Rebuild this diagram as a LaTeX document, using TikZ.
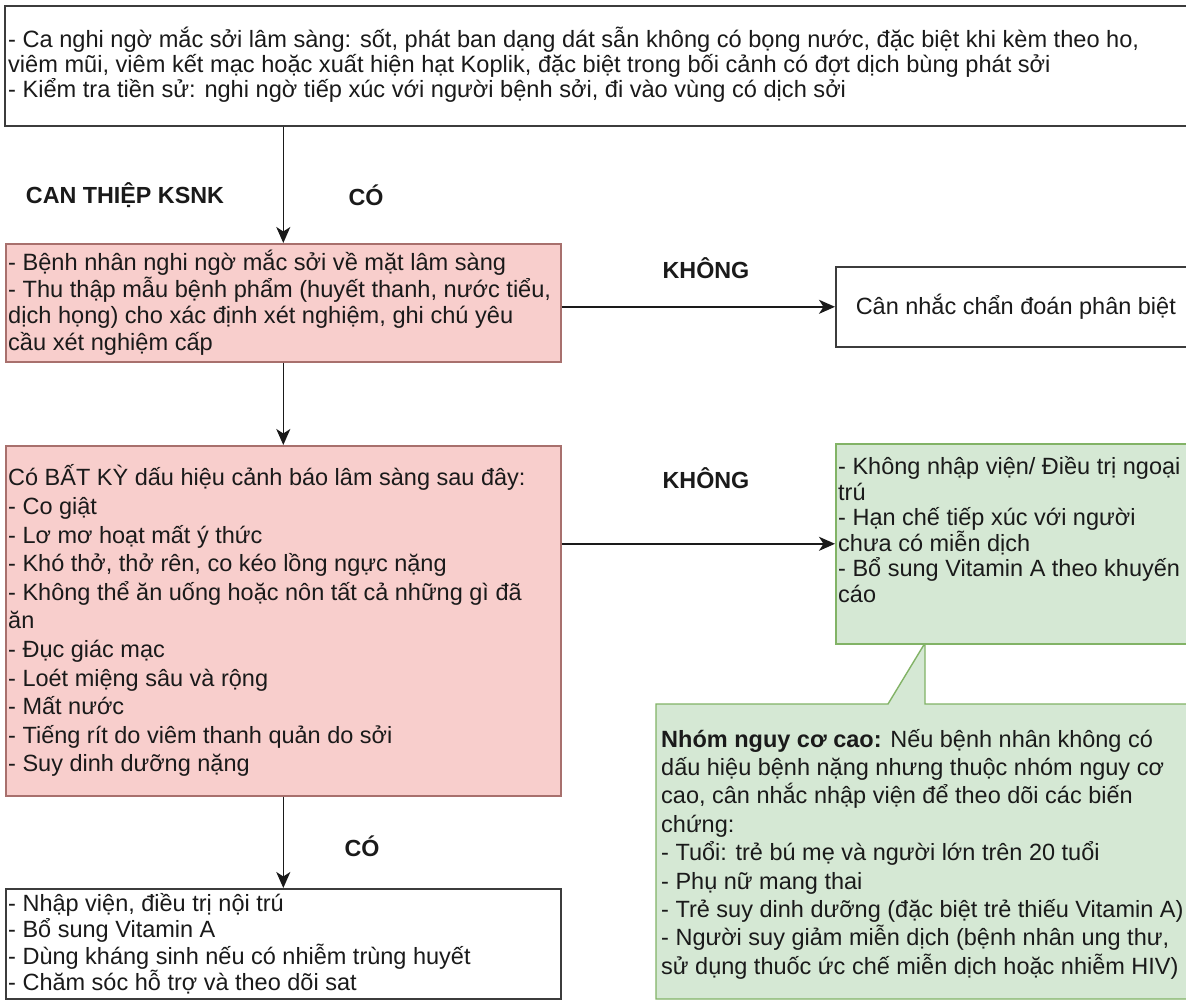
\documentclass[tikz,border=0pt]{standalone}
\usepackage{fontspec}
\setmainfont{Liberation Sans}
\usetikzlibrary{arrows.meta}
\definecolor{redfill}{HTML}{F8CECC}
\definecolor{redline}{HTML}{A8706D}
\definecolor{greenfill}{HTML}{D5E8D4}
\definecolor{greenline}{HTML}{82B366}
\definecolor{ink}{HTML}{1A1A1A}
\begin{document}
\begin{tikzpicture}[x=1pt,y=-1pt,
  box/.style={draw=ink!85, line width=1.6pt, rectangle, inner sep=0pt, anchor=north west},
  redbox/.style={box, fill=redfill, draw=redline},
  greenbox/.style={box, fill=greenfill, draw=greenline},
  txt/.style={anchor=west, align=left, inner sep=0pt, text=ink, font=\fontsize{23.5}{27}\selectfont},
  lbl/.style={inner sep=0pt, text=ink, font=\fontsize{23.3}{27.5}\selectfont\bfseries},
  arr/.style={draw=ink, line width=1.6pt, -{Stealth[length=16pt,width=14pt,inset=4.5pt]}}
]
\useasboundingbox (0,0) rectangle (1186,1002);
\fill[white] (0,0) rectangle (1186,1002);
\clip (0,0) rectangle (1186,1002);

% top box
\node[box, minimum width=1190pt, minimum height=120pt] (top) at (4,5) {};
\node[txt, font=\fontsize{23.6}{25}\selectfont] (topt) at ([xshift=4pt,yshift=1pt]top.west) {- Ca nghi ngờ mắc sởi lâm sàng: sốt, phát ban dạng dát sẫn không có bọng nước, đặc biệt khi kèm theo ho,\\viêm mũi, viêm kết mạc hoặc xuất hiện hạt Koplik, đặc biệt trong bối cảnh có đợt dịch bùng phát sởi\\- Kiểm tra tiền sử: nghi ngờ tiếp xúc với người bệnh sởi, đi vào vùng có dịch sởi};

% red box 1
\node[redbox, minimum width=555pt, minimum height=118pt] (red1) at (5,243) {};
\node[txt, font=\fontsize{23.6}{26.5}\selectfont] (red1t) at ([xshift=3pt]red1.west) {- Bệnh nhân nghi ngờ mắc sởi về mặt lâm sàng\\- Thu thập mẫu bệnh phẩm (huyết thanh, nước tiểu,\\dịch họng) cho xác định xét nghiệm, ghi chú yêu\\cầu xét nghiệm cấp};

% differential diagnosis box
\node[box, minimum width=360pt, minimum height=80pt, text=ink, font=\fontsize{23.5}{27}\selectfont] (can) at (835,266) {Cân nhắc chẩn đoán phân biệt};

% red box 2
\node[redbox, minimum width=555pt, minimum height=350pt] (red2) at (5,445) {};
\node[txt, font=\fontsize{23.5}{28.6}\selectfont] (red2t) at ([xshift=3pt]red2.west) {Có BẤT KỲ dấu hiệu cảnh báo lâm sàng sau đây:\\- Co giật\\- Lơ mơ hoạt mất ý thức\\- Khó thở, thở rên, co kéo lồng ngực nặng\\- Không thể ăn uống hoặc nôn tất cả những gì đã\\ăn\\- Đục giác mạc\\- Loét miệng sâu và rộng\\- Mất nước\\- Tiếng rít do viêm thanh quản do sởi\\- Suy dinh dưỡng nặng};

% callout
\path[draw=greenline, fill=greenfill, line width=1.4pt] (656,704) -- (888,704) -- (925,643) -- (925,704) -- (1195,704) -- (1195,999) -- (656,999) -- cycle;
\node[txt, font=\fontsize{23.5}{28.4}\selectfont] (callt) at (661,854) {\textbf{Nhóm nguy cơ cao:} Nếu bệnh nhân không có\\dấu hiệu bệnh nặng nhưng thuộc nhóm nguy cơ\\cao, cân nhắc nhập viện để theo dõi các biến\\chứng:\\- Tuổi: trẻ bú mẹ và người lớn trên 20 tuổi\\- Phụ nữ mang thai\\- Trẻ suy dinh dưỡng (đặc biệt trẻ thiếu Vitamin A)\\- Người suy giảm miễn dịch (bệnh nhân ung thư,\\sử dụng thuốc ức chế miễn dịch hoặc nhiễm HIV)};

% green box 1
\node[greenbox, minimum width=360pt, minimum height=200pt] (green1) at (835,443) {};
\node[txt, font=\fontsize{23.5}{25.5}\selectfont] (green1t) at ([xshift=3pt,yshift=14pt]green1.west) {- Không nhập viện/ Điều trị ngoại\\trú\\- Hạn chế tiếp xúc với người\\chưa có miễn dịch\\- Bổ sung Vitamin A theo khuyến\\cáo};

% bottom box
\node[box, minimum width=555pt, minimum height=110pt] (bot) at (5,888) {};
\node[txt, font=\fontsize{23.5}{26.5}\selectfont] (bott) at ([xshift=3pt]bot.west) {- Nhập viện, điều trị nội trú\\- Bổ sung Vitamin A\\- Dùng kháng sinh nếu có nhiễm trùng huyết\\- Chăm sóc hỗ trợ và theo dõi sat};

% labels
\node[lbl] (lcan) at (125,195) {CAN THIỆP KSNK};
\node[lbl] (lco1) at (366,195) {CÓ};
\node[lbl] (lk1) at (706,268) {KHÔNG};
\node[lbl] (lk2) at (706,478) {KHÔNG};
\node[lbl] (lco2) at (362,846) {CÓ};

% connectors
\draw[arr] (top.south -| red1.north) -- (red1.north);
\draw[arr] (red1.east |- can.west) -- (can.west);
\draw[arr] (red1.south) -- (red2.north);
\draw[arr] (red2.east |- green1.west) -- (green1.west);
\draw[arr] (red2.south) -- (bot.north);
\end{tikzpicture}
\end{document}
